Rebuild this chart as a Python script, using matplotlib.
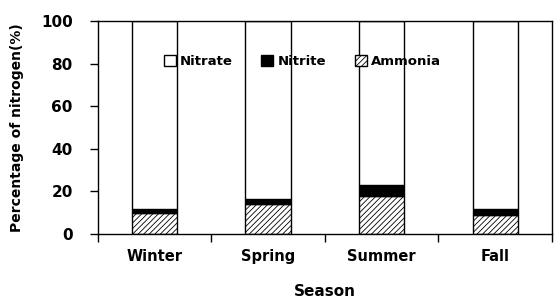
import numpy as np
import matplotlib.pyplot as plt

seasons = ["Winter", "Spring", "Summer", "Fall"]
ammonia = [10, 14, 18, 9]
nitrite = [2, 2.5, 5, 3]
nitrate = [100 - a - n for a, n in zip(ammonia, nitrite)]

plt.rcParams["font.family"] = "DejaVu Sans"
plt.rcParams["font.weight"] = "bold"
plt.rcParams["hatch.linewidth"] = 0.6

fig, ax = plt.subplots(figsize=(5.59, 3.06), dpi=100)
fig.subplots_adjust(left=0.175, right=0.9875, top=0.931, bottom=0.235)

x = np.arange(len(seasons))
w = 0.4
bot2 = np.array(ammonia) + np.array(nitrite)
ax.bar(x, ammonia, w, color="white", edgecolor="black", hatch="//////",
       linewidth=1.0, label="Ammonia", zorder=2)
ax.bar(x, nitrite, w, bottom=ammonia, color="black", edgecolor="black",
       linewidth=1.0, label="Nitrite", zorder=2)
ax.bar(x, nitrate, w, bottom=bot2, color="white", edgecolor="black",
       linewidth=1.0, label="Nitrate", zorder=2)

ax.set_xlim(-0.5, len(seasons) - 0.5)
ax.set_ylim(0, 100)
ax.set_yticks([0, 20, 40, 60, 80, 100])
ax.tick_params(axis="y", labelsize=11, length=6, width=1, pad=12)
ax.set_xticks(np.arange(len(seasons) + 1) - 0.5)
ax.set_xticklabels([])
ax.set_xticks(x, minor=True)
ax.set_xticklabels(seasons, minor=True, fontsize=10.5, fontweight="bold")
ax.tick_params(axis="x", which="major", length=6, width=1)
ax.tick_params(axis="x", which="minor", length=0, pad=11)
for s in ax.spines.values():
    s.set_linewidth(1)

ax.set_xlabel("Season", fontsize=11, fontweight="bold", labelpad=14)
ax.set_ylabel("Percentage of nitrogen(%)", fontsize=10, fontweight="bold",
              labelpad=12)

h, l = ax.get_legend_handles_labels()
ax.legend(h[::-1], l[::-1], ncol=3, frameon=False, loc="center",
          bbox_to_anchor=(0.45, 0.81), fontsize=9.5, handlelength=0.9,
          handleheight=0.9, columnspacing=2.2, handletextpad=0.3)

fig.savefig("out.png")
